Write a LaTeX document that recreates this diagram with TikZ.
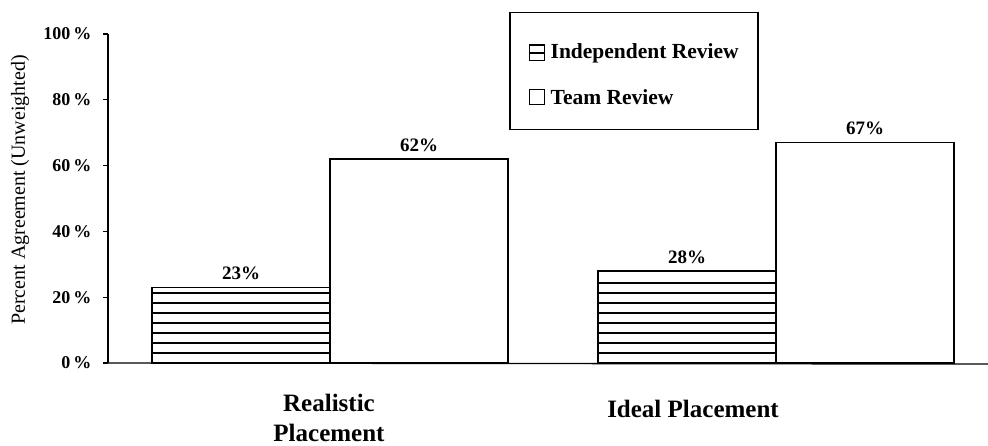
\documentclass[tikz,border=0pt]{standalone}
\usepackage{fontspec}
\setmainfont{Liberation Serif}
\usetikzlibrary{positioning}

\tikzset{
  bar/.style={draw=black, line width=1.3pt, fill=white},
  hatchline/.style={line width=1.3pt},
  ticklabel/.style={anchor=east, font=\bfseries\fontsize{18}{18}\selectfont},
  pctlabel/.style={font=\bfseries\fontsize{19}{19}\selectfont},
  catlabel/.style={align=center, inner sep=0pt, font=\bfseries\fontsize{25}{30}\selectfont},
  legendtext/.style={anchor=west, font=\bfseries\fontsize{21.5}{21.5}\selectfont},
  legendicon/.style={draw=black, line width=1.2pt, minimum size=15pt, inner sep=0pt}
}

\begin{document}
\begin{tikzpicture}[x=1pt, y=-1pt]
  \useasboundingbox (0,0) rectangle (988,446);

  % Axis and ticks
  \draw[line width=1.2pt] (108,34) -- (108,363);
  \foreach \v in {0,20,...,100} {
    \draw[line width=1.2pt] (103,{363-3.29*\v}) -- (108,{363-3.29*\v});
    \node[ticklabel] (tick\v) at (95,{363-3.29*\v}) {\v\,\%};
  }
  \node[rotate=90, font=\fontsize{20}{20}\selectfont] (ylab) at (20,190) {Percent Agreement (Unweighted)};

  % Bars: left edge / height
  \foreach \x/\p/\name in {152/23/rh, 598/28/ih} {
    \draw[bar] (\x,363) rectangle ({\x+178},{363-3.29*\p});
    \foreach \k in {1,...,9} {
      \pgfmathsetmacro{\yy}{363-10*\k}
      \ifdim\yy pt>\dimexpr 367pt-3.29pt*\p\relax
        \draw[hatchline] (\x,\yy) -- ({\x+178},\yy);
      \fi
    }
    \node[pctlabel, above=4pt] (pct\name) at ({\x+89},{363-3.29*\p}) {\p\%};
  }
  \foreach \x/\p/\name in {330/62/rt, 776/67/it} {
    \draw[bar] (\x,363) rectangle ({\x+178},{363-3.29*\p});
    \node[pctlabel, above=4pt] (pct\name) at ({\x+89},{363-3.29*\p}) {\p\%};
  }

  % Baseline
  \draw[line width=1.4pt] (108,363) -- (988,364);

  % Category labels
  \node[catlabel] (real) at (329,418) {Realistic\\Placement};
  \node[catlabel] (ideal) at (693,409) {Ideal Placement};

  % Legend
  \node[draw=black, line width=1.2pt, minimum width=248pt, minimum height=117pt] (legend) at (634,71) {};
  \node[legendicon] (iconA) at (537,53) {};
  \draw[line width=1.2pt] (iconA.west) -- (iconA.east);
  \draw[line width=2.4pt] (iconA.north west) -- (iconA.north east);
  \node[legendtext, right=2pt of iconA] (indep) {Independent Review};
  \node[legendicon] (iconB) at (537,97) {};
  \node[legendtext, right=2pt of iconB] (team) {Team Review};
\end{tikzpicture}
\end{document}
